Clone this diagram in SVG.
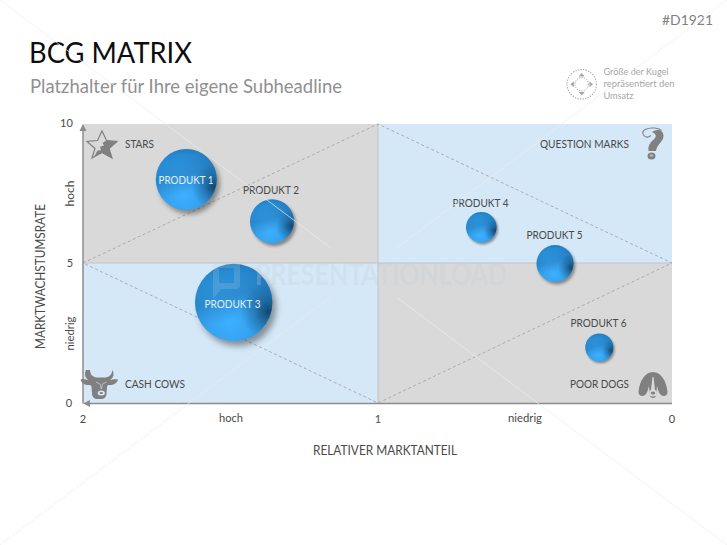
<svg xmlns="http://www.w3.org/2000/svg" width="727" height="545" viewBox="0 0 727 545">
<style>
text{font-family:"Lato","Open Sans","Liberation Sans",sans-serif;fill:#4a4a4a}
.l{font-size:11px}
.p{font-size:11px;text-anchor:middle}
.t{font-size:11px;text-anchor:middle}
.ic{fill:#808080}
.dash{stroke:#a6a6a6;stroke-width:.9;stroke-dasharray:3 2.5;fill:none}
.wm{stroke:#ececec;stroke-opacity:.7;stroke-width:1;fill:none}
.ax{stroke:#8c8c8c;stroke-width:1.500;fill:none}
.ti{fill:#e3eef7}
</style>
<defs>
<radialGradient id="ball" cx=".45" cy=".76" r=".8">
<stop offset="0" stop-color="#3db0ff"/><stop offset=".45" stop-color="#339fec"/><stop offset=".85" stop-color="#2688d0"/><stop offset="1" stop-color="#1f78ba"/>
</radialGradient>
<radialGradient id="dark" cx=".95" cy=".62" r=".36">
<stop offset="0" stop-color="#0f3a5c" stop-opacity=".85"/><stop offset=".5" stop-color="#0f3a5c" stop-opacity=".35"/><stop offset="1" stop-color="#0f3a5c" stop-opacity="0"/>
</radialGradient>
<linearGradient id="band" x1=".05" y1=".25" x2=".2" y2=".8">
<stop offset="0" stop-color="#0f3a5c" stop-opacity="0"/><stop offset=".5" stop-color="#0f3a5c" stop-opacity=".18"/><stop offset="1" stop-color="#0f3a5c" stop-opacity="0"/>
</linearGradient>
<filter id="shs" x="-40%" y="-40%" width="180%" height="180%"><feGaussianBlur stdDeviation=".08"/></filter>
<g id="sph">
<circle cx=".1" cy=".13" r="1" fill="#000" fill-opacity=".38" filter="url(#shs)"/>
<circle r="1" fill="url(#ball)"/>
<circle r="1" fill="url(#band)"/>
<circle r="1" fill="url(#dark)"/>
</g>
</defs>
<rect width="727" height="545" fill="#fff"/>
<g id="plot">
<rect x="83" y="124" width="295" height="139" fill="#d9d9d9"/>
<rect x="378" y="124" width="294" height="139" fill="#d5e8f7"/>
<rect x="83" y="263" width="295" height="140" fill="#d5e8f7"/>
<rect x="378" y="263" width="294" height="140" fill="#d9d9d9"/>
<path d="M378 124V403M83 263H672" stroke="#c4c4c4" stroke-width="1" fill="none"/>
</g>
<g id="connectors">
<path class="dash" d="M83 263L378 124L672 263L378 403Z"/>
<path class="ax" d="M83 403.500V129"/>
<path class="ax" d="M88 403.500H672"/>
<path d="M83 124L79.500 131H86.500Z" fill="#8c8c8c"/>
<path d="M83 403.500L90 400V407Z" fill="#8c8c8c"/>
</g>
<g id="heading">
<text x="29" y="63" style="font-size:29px;fill:#0d0d0d" textLength="163" lengthAdjust="spacingAndGlyphs">BCG MATRIX</text>
<text x="30" y="93" style="font-size:18.500px;fill:#909090" textLength="312" lengthAdjust="spacingAndGlyphs">Platzhalter für Ihre eigene Subheadline</text>
<text x="662" y="25" style="font-size:13px;fill:#7f7f7f" textLength="51" lengthAdjust="spacingAndGlyphs">#D1921</text>
</g>
<g id="legend">
<circle cx="581.700" cy="84.300" r="14.700" fill="none" stroke="#a6a6a6" stroke-width="1.100" stroke-dasharray="1.300 1.300"/>
<circle cx="581.700" cy="84.300" r="6.700" fill="none" stroke="#a6a6a6" stroke-width="1" stroke-dasharray="1.200 1.200"/>
<path d="M581.700 73l3 3.500h-6zM581.700 95.600l3-3.500h-6zM570.400 84.300l3.500-3v6zM593 84.300l-3.500-3v6z" fill="#a6a6a6"/>
<text x="603.500" y="75" style="fill:#a6a6a6;font-size:10px" textLength="65" lengthAdjust="spacingAndGlyphs">Größe der Kugel</text>
<text x="603.500" y="87" style="fill:#a6a6a6;font-size:10px" textLength="71" lengthAdjust="spacingAndGlyphs">repräsentiert den</text>
<text x="603.500" y="99" style="fill:#a6a6a6;font-size:10px" textLength="30" lengthAdjust="spacingAndGlyphs">Umsatz</text>
</g>
<g id="axis-labels">
<text class="t" x="66.500" y="127">10</text>
<text class="t" x="70" y="267">5</text>
<text class="t" x="69" y="407">0</text>
<text class="t" x="83" y="423">2</text>
<text class="t" x="378" y="423">1</text>
<text class="t" x="672" y="423">0</text>
<text class="t" x="231" y="422" textLength="24" lengthAdjust="spacingAndGlyphs">hoch</text>
<text class="t" x="525" y="422" textLength="34" lengthAdjust="spacingAndGlyphs">niedrig</text>
<text class="t" x="74" y="193.500" transform="rotate(-90 74 193.500)" textLength="26" lengthAdjust="spacingAndGlyphs">hoch</text>
<text class="t" x="74" y="333.500" transform="rotate(-90 74 333.500)" textLength="34" lengthAdjust="spacingAndGlyphs">niedrig</text>
<text x="385" y="455" style="font-size:13px;text-anchor:middle" textLength="144" lengthAdjust="spacingAndGlyphs">RELATIVER MARKTANTEIL</text>
<text x="44.500" y="276.500" style="font-size:13px;text-anchor:middle" textLength="145" lengthAdjust="spacingAndGlyphs" transform="rotate(-90 44.500 276.500)">MARKTWACHSTUMSRATE</text>
</g>
<g id="stars">
<path d="M102 131l4.500 9.500 10.500 1-8 7 3 9.500-10-5.500-10 5.500 3-9.500-8-7 10.500-1z" fill="none" stroke="#808080" stroke-width="1.200"/>
<path class="ic" d="M106.500 140.500l10.500 1-8 7 3 9.500-10-5.500-8 4.400 3.500-6.400 3.500-.3-1-3.500 4-1.200-1.500-2.500z"/>
<text class="l" x="125" y="148" textLength="29" lengthAdjust="spacingAndGlyphs">STARS</text>
</g>
<g id="question-marks">
<path d="M643.500 135c-3-5 4-7.500 11-7 3 .3 5 1 7 2.500M643.500 135c2 3 5 2.500 7.500 .5" fill="none" stroke="#808080" stroke-width="1.100"/>
<path class="ic" d="M652 132c6-3.500 11-2 11.500 3.500.5 6-6.500 8-7.500 15.500h-7.500c-1-7 4-10 6.500-13 1.500-2 1-4-3-6z"/>
<ellipse class="ic" cx="651.500" cy="156" rx="4" ry="3.500"/>
<ellipse cx="651.500" cy="155.500" rx="1.800" ry="1.200" fill="#d5e8f7" fill-opacity=".5"/>
<text class="l" x="540" y="148" textLength="89" lengthAdjust="spacingAndGlyphs">QUESTION MARKS</text>
</g>
<g id="cash-cows">
<path class="ic" d="M90 370c0 4 2 6.500 6 7.500h10c4-1 6-3.500 6.500-7.500 2 4 1 8-3 10.500 3-1.500 6-1.500 8.500-1-1 4-5 6-9.500 5.500-1 .5-1.500 1-1.500 2l-.5 6.500c0 3-2 5.500-5 5.500h-4.500c-3 0-5-2.500-5-5.500l-.5-6.500c0-1-.5-1.500-1.500-2-4.500 .5-8.500-1.500-9.500-5.500 2.500-.5 5.500-.5 8.500 1-4-2.500-5-6.500-3-10.500z"/>
<path d="M96 382l4 2 1.200 5M106.500 382l-4 2-1.200 5" fill="none" stroke="#d5e8f7" stroke-width=".8" stroke-opacity=".7"/>
<ellipse cx="101.300" cy="393" rx="3.600" ry="2.500" fill="#d5e8f7"/>
<ellipse cx="101.300" cy="393" rx="1.800" ry="1" fill="#808080"/>
<text class="l" x="125" y="388" textLength="60" lengthAdjust="spacingAndGlyphs">CASH COWS</text>
</g>
<g id="poor-dogs">
<path class="ic" d="M653 372c-8 0-13.500 9-14.500 20 0 4 4 5 6.500 3 2.500-2 3-6 4-9 .5 4 .5 8 1 10 1 2.500 5 2.500 6 0 .5-2 .5-6 1-10 1 3 1.500 7 4 9 2.500 2 6.500 1 6.500-3-1-11-6.500-20-14.500-20z"/>
<path d="M652.500 377h1l1.500 13h-4z" fill="#d9d9d9"/>
<ellipse cx="653" cy="393" rx="3.800" ry="3.600" fill="#d9d9d9"/>
<ellipse cx="653" cy="393" rx="2.200" ry="1.600" fill="#808080"/>
<text class="l" x="570" y="388" textLength="59" lengthAdjust="spacingAndGlyphs">POOR DOGS</text>
</g>
<g id="produkt-1"><use href="#sph" transform="translate(186.300 179.500) scale(30.500)"/></g>
<g id="produkt-2"><use href="#sph" transform="translate(272 221.300) scale(22)"/><text class="p" x="271" y="194" textLength="56" lengthAdjust="spacingAndGlyphs">PRODUKT 2</text></g>
<g id="produkt-3"><use href="#sph" transform="translate(233.700 302.500) scale(38.700)"/></g>
<g id="produkt-4"><use href="#sph" transform="translate(481.300 227.200) scale(15.300)"/><text class="p" x="480.500" y="207" textLength="56" lengthAdjust="spacingAndGlyphs">PRODUKT 4</text></g>
<g id="produkt-5"><use href="#sph" transform="translate(555 263.500) scale(18.500)"/><text class="p" x="554.500" y="239" textLength="56" lengthAdjust="spacingAndGlyphs">PRODUKT 5</text></g>
<g id="produkt-6"><use href="#sph" transform="translate(599.300 347.500) scale(14)"/><text class="p" x="598.500" y="327" textLength="56" lengthAdjust="spacingAndGlyphs">PRODUKT 6</text></g>
<g id="watermark">
<path class="wm" d="M0 545L330 297.500M397 247.500L727 0M0 0L331 248M397 297.500L727 545"/>
<text x="255" y="285" style="font-size:30px;font-weight:700;fill:#c4d0d8;fill-opacity:.3" textLength="252" lengthAdjust="spacingAndGlyphs">PRESENTATIONLOAD</text>
<path d="M216 262h20a4 4 0 0 1 4 4v19a4 4 0 0 1-4 4h-15l-8 10v-33a4 4 0 0 1 3-4zM219 268v15h15v-15z" fill="#c4d0d8" fill-opacity=".2" fill-rule="evenodd"/>
</g>
<g id="sphere-labels">
<text class="p ti" x="186" y="183.500" textLength="55" lengthAdjust="spacingAndGlyphs">PRODUKT 1</text>
<text class="p ti" x="232.500" y="308" textLength="56" lengthAdjust="spacingAndGlyphs">PRODUKT 3</text>
</g>
</svg>
